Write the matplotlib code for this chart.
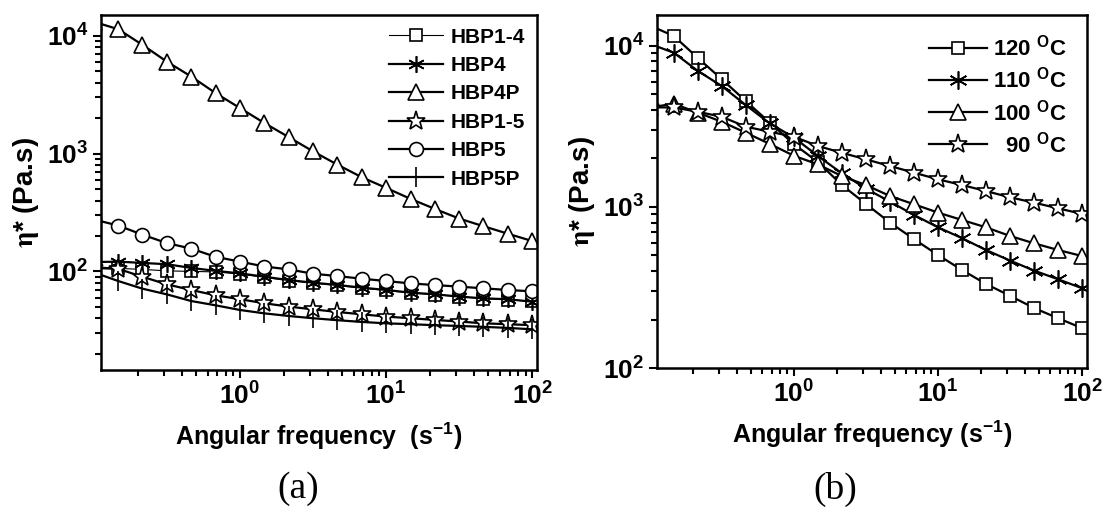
import matplotlib
matplotlib.use("Agg")
import matplotlib.pyplot as plt
from matplotlib.ticker import LogLocator, NullFormatter

plt.rcParams['font.family'] = ['Liberation Sans', 'DejaVu Sans']
plt.rcParams['font.weight'] = 'bold'
plt.rcParams['axes.labelweight'] = 'bold'
plt.rcParams['mathtext.fontset'] = 'stix'
plt.rcParams['axes.linewidth'] = 1.8

# ---- data ----
freq = [0.1, 0.147, 0.215, 0.316, 0.464, 0.681, 1.0, 1.47, 2.15, 3.16,
        4.64, 6.81, 10.0, 14.7, 21.5, 31.6, 46.4, 68.1, 100.0]

# panel (a)
hbp14 = [110, 106, 104, 101, 100, 99, 95, 89, 83.5, 79.5, 76, 72, 69, 65.5,
         63.5, 61, 58.7, 57.5, 55.5]
hbp4 = [120, 121, 118, 115, 107, 101, 96.2, 90.1, 84.4, 80.2, 76.6, 72.8,
        69.5, 66, 63.9, 61.1, 59, 58, 55.3]
hbp4p = [13200, 11400, 8400, 6050, 4520, 3270, 2440, 1820, 1385, 1047, 807,
         631, 512, 413, 340, 281, 242, 209, 181]
hbp15 = [107, 105, 90, 77.6, 69.5, 62.6, 58, 53.6, 50.2, 47.6, 45.2, 43.2,
         41.3, 40, 38.7, 37.5, 36.2, 35.6, 34.9]
hbp5 = [276, 245, 205, 174, 156, 133, 121, 110, 104, 95.6, 91.2, 86.7, 82.8,
        79, 76.6, 74.2, 71.8, 69.5, 67.7]
hbp5p = [98, 82.8, 71.3, 63.8, 56, 51.5, 47, 44, 41.8, 40, 38.5, 37.2, 36.2,
         35.6, 34.9, 34.4, 33.8, 33.1, 32.2]
labels_a = ['HBP1-4', 'HBP4', 'HBP4P', 'HBP1-5', 'HBP5', 'HBP5P']

# panel (b)
t120 = [13400, 11500, 8430, 6210, 4540, 3340, 2455, 1900, 1370, 1045, 800,
        632, 503, 406, 333, 281, 236, 204, 177]
t110 = [10300, 9060, 7000, 5630, 4290, 3300, 2700, 2070, 1620, 1300, 1080,
        892, 748, 640, 541, 465, 403, 356, 313]
t100 = [4150, 4370, 3850, 3380, 2890, 2460, 2080, 1837, 1556, 1368, 1170,
        1040, 923, 830, 748, 661, 595, 541, 496]
t90 = [4150, 4150, 3900, 3630, 3150, 2930, 2730, 2390, 2170, 1975, 1796,
       1633, 1485, 1368, 1256, 1148, 1064, 981, 906]
labels_b = [r'120 $^{\mathregular{O}}$C', r'110 $^{\mathregular{O}}$C',
            r'100 $^{\mathregular{O}}$C', r'  90 $^{\mathregular{O}}$C']

fig = plt.figure(figsize=(11.04, 5.07), dpi=100)
axA = fig.add_axes([0.0915, 0.270, 0.395, 0.700])
axB = fig.add_axes([0.595, 0.274, 0.3895, 0.696])

asterisk = (6, 2, 0)
lw = 1.6
mew = 1.2
common = dict(color='black', mfc='white', mec='black', mew=mew)

axA.plot(freq, hbp14, marker='s', ms=8, lw=0.8, label=labels_a[0], **common)
axA.plot(freq, hbp4, marker=asterisk, ms=12, lw=lw, label=labels_a[1], **common)
axA.plot(freq, hbp4p, marker='^', ms=12, lw=lw, label=labels_a[2], **common)
axA.plot(freq, hbp15, marker='*', ms=14, lw=lw, label=labels_a[3], **common)
axA.plot(freq, hbp5, marker='o', ms=10, lw=lw, label=labels_a[4], **common)
axA.plot(freq, hbp5p, marker='|', ms=14, lw=lw, label=labels_a[5], **common)

axB.plot(freq, t120, marker='s', ms=9, lw=lw, label=labels_b[0], **common)
axB.plot(freq, t110, marker=asterisk, ms=13, lw=lw, label=labels_b[1], **common)
axB.plot(freq, t100, marker='^', ms=12, lw=lw, label=labels_b[2], **common)
axB.plot(freq, t90, marker='*', ms=14, lw=lw, label=labels_b[3], **common)

for ax in (axA, axB):
    ax.set_xscale('log')
    ax.set_yscale('log')
    ax.set_xlim(0.112, 108)
    ax.tick_params(which='both', direction='out', top=False, right=False,
                   labelsize=19, width=1.5)
    ax.tick_params(which='major', length=6, pad=3)
    ax.tick_params(which='minor', length=4)
    ax.xaxis.set_minor_locator(LogLocator(base=10, subs=range(2, 10)))
    ax.yaxis.set_minor_locator(LogLocator(base=10, subs=range(2, 10)))
    ax.xaxis.set_minor_formatter(NullFormatter())
    ax.yaxis.set_minor_formatter(NullFormatter())
    ax.set_ylabel(r'$\mathrm{\eta}$* (Pa.s)', fontsize=20, labelpad=4)

axA.set_ylim(14.5, 15000)
axB.set_ylim(100, 15500)

axA.set_xlabel(r'Angular frequency  (s$^{\mathregular{-1}}$)', fontsize=18,
               labelpad=8)
axB.set_xlabel(r'Angular frequency (s$^{\mathregular{-1}}$)', fontsize=18,
               labelpad=8)

axA.legend(loc='upper right', frameon=False, fontsize=15, handlelength=2.6,
           handletextpad=0.35, labelspacing=0.45, borderaxespad=0.2)
axB.legend(loc='upper right', frameon=False, fontsize=16, handlelength=2.6,
           handletextpad=0.25, labelspacing=0.3, borderaxespad=0.5)

fig.text(0.270, 0.0355, '(a)', ha='center', va='center', fontsize=27,
         fontweight='normal', family='Liberation Serif')
fig.text(0.757, 0.0355, '(b)', ha='center', va='center', fontsize=27,
         fontweight='normal', family='Liberation Serif')

fig.savefig('out.png', dpi=100)
